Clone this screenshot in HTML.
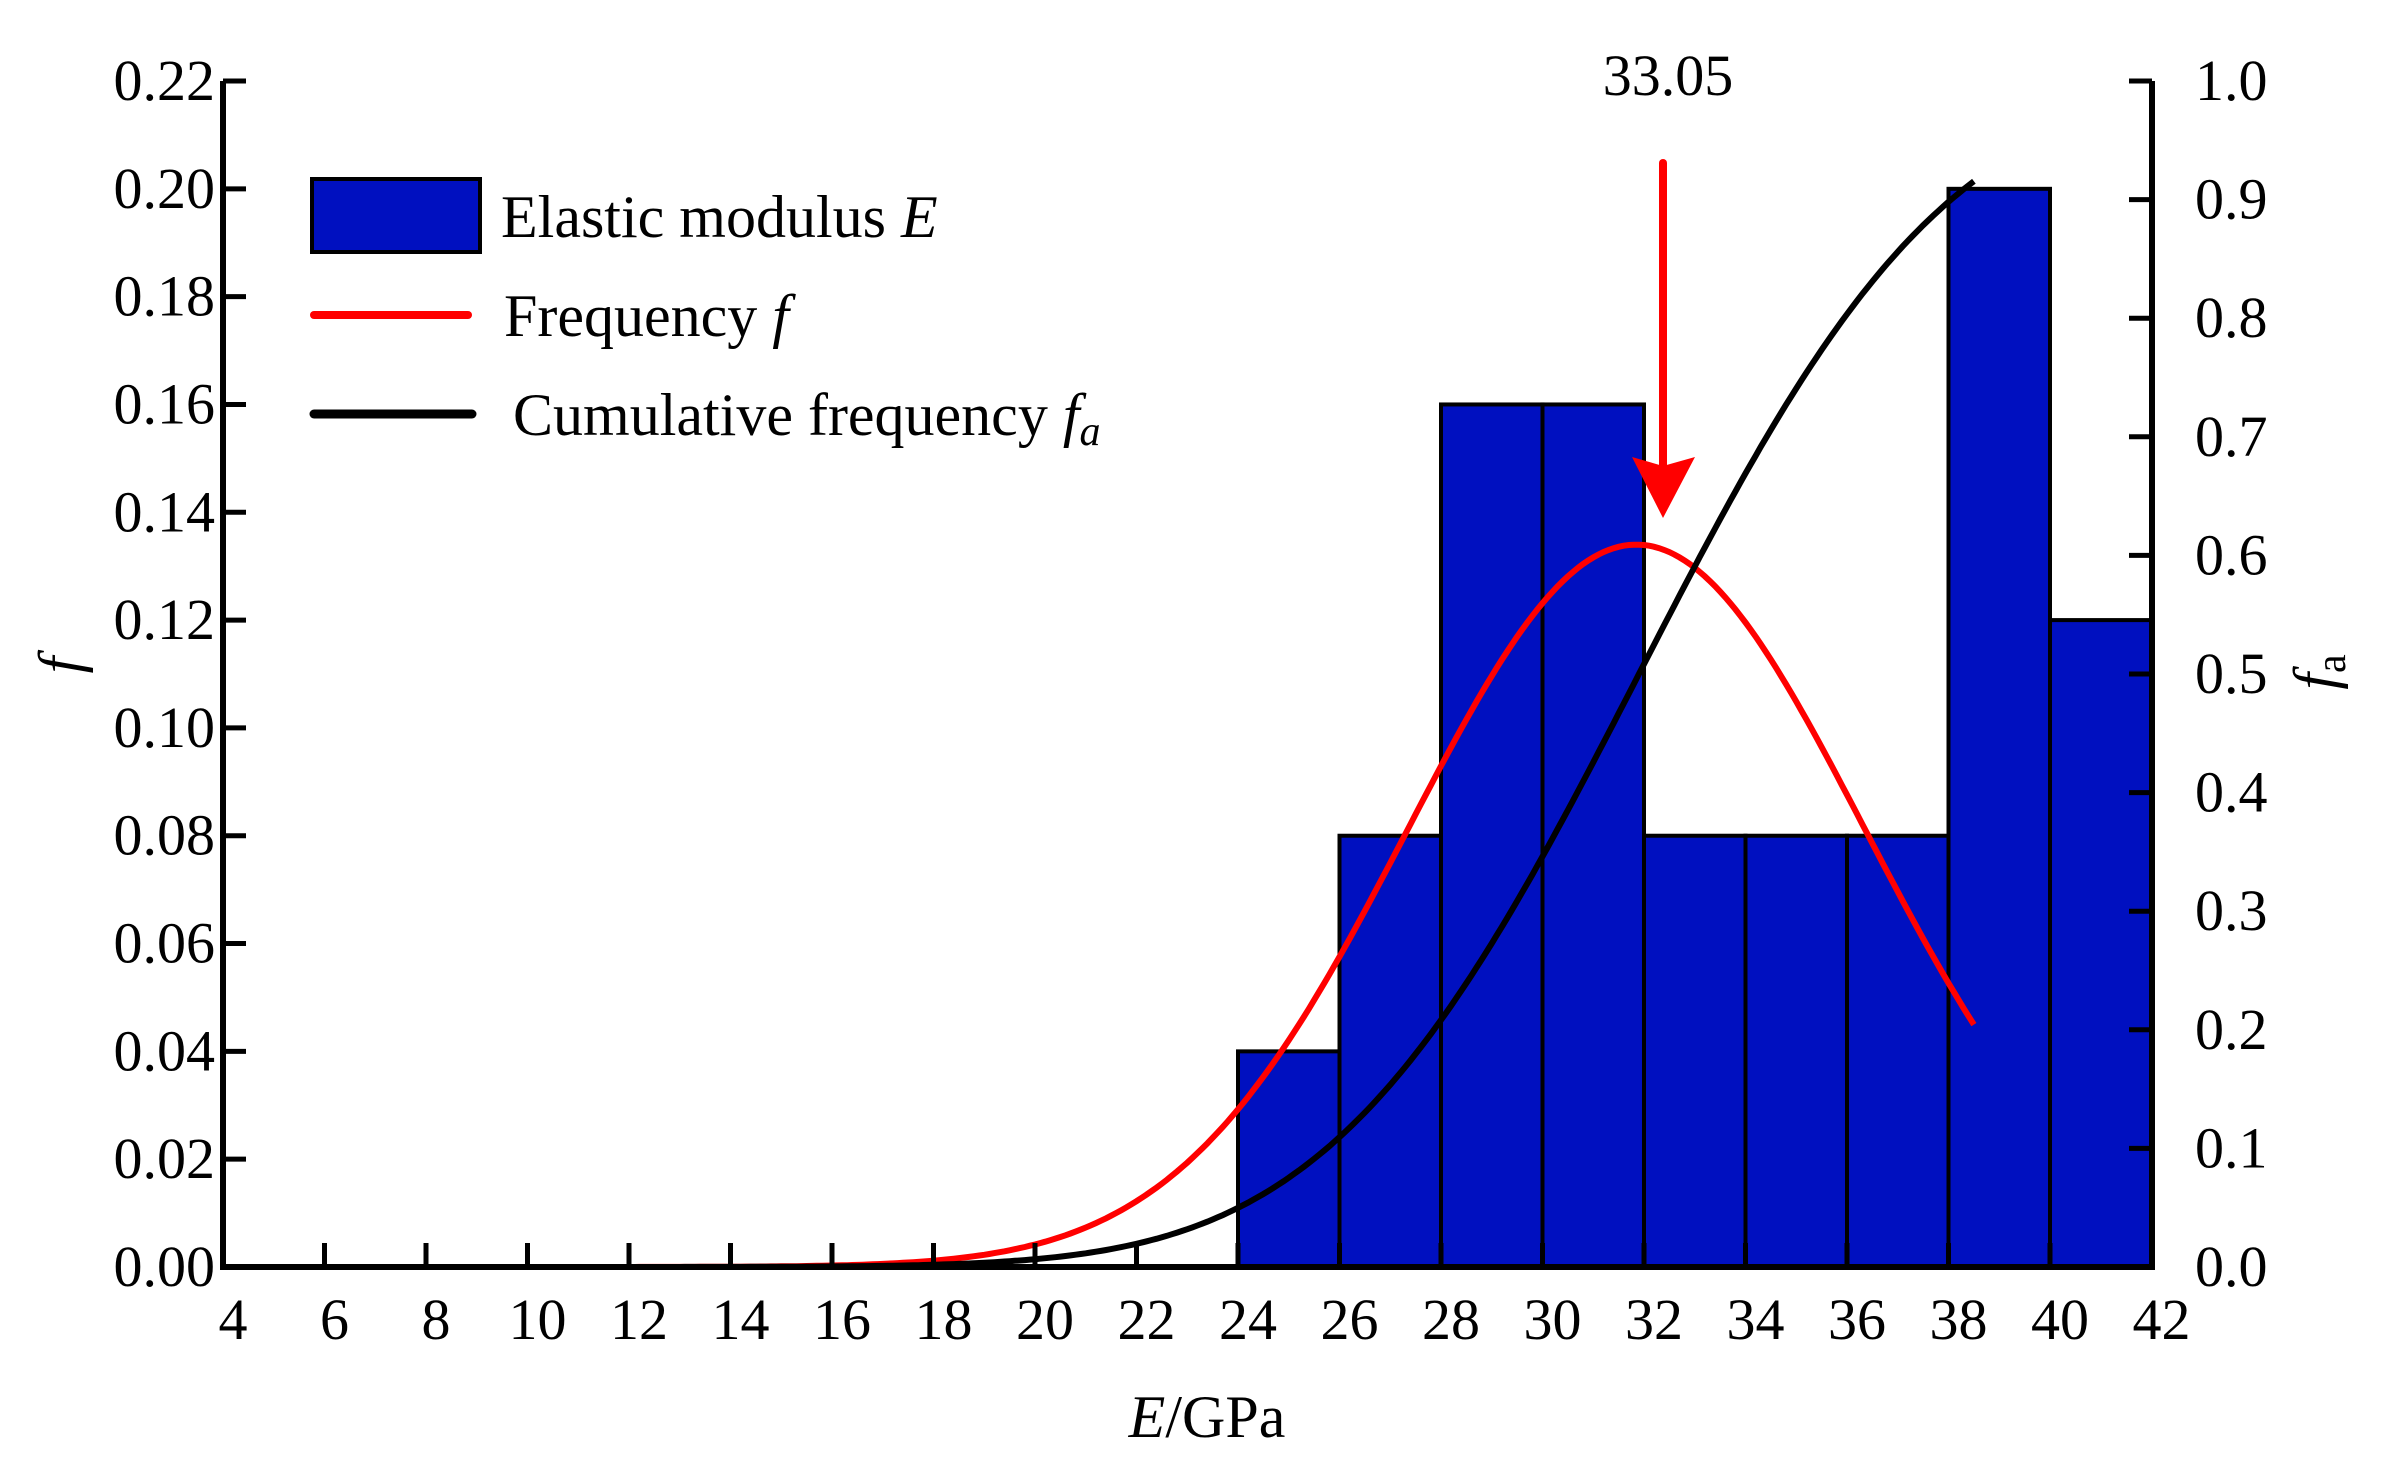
<!DOCTYPE html>
<html><head><meta charset="utf-8"><style>
html,body{margin:0;padding:0;background:#fff;}
svg{display:block;}
text{font-family:"Liberation Serif",serif;fill:#000;}
</style></head><body>
<svg id="s" width="2383" height="1484" viewBox="0 0 2383 1484" xmlns="http://www.w3.org/2000/svg">
<g id="bars" stroke="#000" stroke-width="4" fill="#0010C0"></g>
<path id="red" fill="none" stroke="#ff0000" stroke-width="6"/>
<path id="blk" fill="none" stroke="#000" stroke-width="6"/>
<line x1="1663" y1="163" x2="1663" y2="470" stroke="#ff0000" stroke-width="8" stroke-linecap="round"/>
<path d="M1632,457 L1663,518 L1695,457 L1663,466 Z" fill="#ff0000"/>
<text x="1668" y="95" font-size="58" text-anchor="middle">33.05</text>
<g id="axes" stroke="#000" stroke-width="6" fill="none">
<path d="M223,81 L223,1267 L2152,1267 L2152,81"/>
</g>
<g id="ticks" stroke="#000" stroke-width="5"></g>
<g id="labels" font-size="58"></g>
<rect x="312" y="179" width="168" height="73" fill="#0010C0" stroke="#000" stroke-width="4"/>
<text x="501" y="237" font-size="60">Elastic modulus <tspan font-style="italic">E</tspan></text>
<line x1="314" y1="315" x2="468" y2="315" stroke="#ff0000" stroke-width="8" stroke-linecap="round"/>
<text x="504" y="336" font-size="60">Frequency <tspan font-style="italic">f</tspan></text>
<line x1="314" y1="414" x2="472" y2="414" stroke="#000" stroke-width="9" stroke-linecap="round"/>
<text x="513" y="435" font-size="60">Cumulative frequency <tspan font-style="italic">f</tspan><tspan font-style="italic" font-size="42" dy="10">a</tspan></text>
<text x="1207" y="1437" font-size="60" text-anchor="middle"><tspan font-style="italic">E</tspan>/GPa</text>
<text transform="translate(80,665) rotate(-90)" font-size="60" font-style="italic" text-anchor="middle">f</text>
<text transform="translate(2335,672) rotate(-90)" font-size="60" text-anchor="middle"><tspan font-style="italic">f</tspan><tspan font-size="42" dy="10">a</tspan></text>
</svg>
<script>
var NS="http://www.w3.org/2000/svg";
function X(v){return 223+(v-4)*50.75;}
function YL(v){return 1267-v/0.22*1186;}
function YR(v){return 1267-v*1186;}
function el(p,t,a){var e=document.createElementNS(NS,t);for(var k in a)e.setAttribute(k,a[k]);p.appendChild(e);return e;}
var bars=[[24,0.04],[26,0.08],[28,0.16],[30,0.16],[32,0.08],[34,0.08],[36,0.08],[38,0.20],[40,0.12]];
var bg=document.getElementById('bars');
bars.forEach(function(b){el(bg,'rect',{x:X(b[0]),y:YL(b[1]),width:X(b[0]+2)-X(b[0]),height:1267-YL(b[1])});});
function erf(x){var s=x<0?-1:1;x=Math.abs(x);var t=1/(1+0.3275911*x);var y=1-(((((1.061405429*t-1.453152027)*t)+1.421413741)*t-0.284496736)*t+0.254829592)*t*Math.exp(-x*x);return s*y;}
var r="",k="";
for(var v=8;v<=38.55;v+=0.1){
 var f=0.134*Math.exp(-Math.pow(v-31.85,2)/(2*4.5*4.5));
 var c=0.5*(1+erf((v-31.9)/(4.8*Math.SQRT2)));
 r+=(r?"L":"M")+X(v).toFixed(1)+","+YL(f).toFixed(1);
 k+=(k?"L":"M")+X(v).toFixed(1)+","+YR(c).toFixed(1);
}
document.getElementById('red').setAttribute('d',r);
document.getElementById('blk').setAttribute('d',k);
var tg=document.getElementById('ticks'),lg=document.getElementById('labels');
for(var i=0;i<=11;i++){var v=i*0.02,y=YL(v);
 el(tg,'line',{x1:223,y1:y,x2:246,y2:y});
 var t=el(lg,'text',{x:215,y:y+19,'text-anchor':'end'});t.textContent=v.toFixed(2);}
for(var i=0;i<=10;i++){var v=i/10,y=YR(v);
 el(tg,'line',{x1:2152,y1:y,x2:2129,y2:y});
 var t=el(lg,'text',{x:2195,y:y+19});t.textContent=v.toFixed(1);}
for(var v=4;v<=42;v+=2){var x=X(v);
 el(tg,'line',{x1:x,y1:1267,x2:x,y2:1243});
 var t=el(lg,'text',{x:x+10,y:1339,'text-anchor':'middle'});t.textContent=v;}
</script>
</body></html>
